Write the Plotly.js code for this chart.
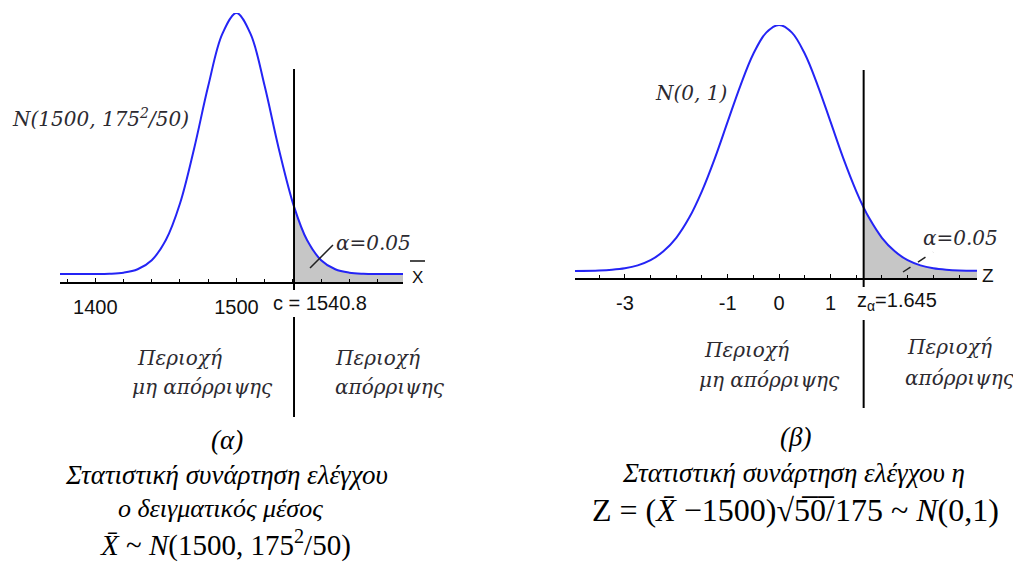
<!DOCTYPE html>
<html>
<head>
<meta charset="utf-8">
<script src="https://cdn.plot.ly/plotly-3.0.1.min.js"></script>
<style>html,body{margin:0;padding:0;background:#fff;}#chart{width:1013px;height:564px;}</style>
</head>
<body>
<div id="chart"></div>
<script>
// ---- data (relative density heights) ----
const leftX = [1375, 1390, 1400, 1410, 1420, 1430, 1440, 1450, 1460, 1470, 1480, 1490, 1500, 1510, 1520, 1530, 1540.8, 1550, 1560, 1570, 1580, 1590, 1600, 1618];
const leftY = [0.000, 0.000, 0.000, 0.001, 0.005, 0.018, 0.053, 0.130, 0.270, 0.480, 0.720, 0.920, 1.000, 0.920, 0.720, 0.480, 0.258, 0.130, 0.053, 0.018, 0.005, 0.001, 0.000, 0.000];
const rightZ = [-3.97, -3.5, -3.25, -3, -2.75, -2.5, -2.25, -2, -1.75, -1.5, -1.25, -1, -0.75, -0.5, -0.25, 0, 0.25, 0.5, 0.75, 1, 1.25, 1.5, 1.645, 1.75, 2, 2.25, 2.5, 2.75, 3, 3.25, 3.5, 3.85];
const rightY = [0.000, 0.002, 0.005, 0.011, 0.023, 0.044, 0.080, 0.135, 0.216, 0.325, 0.458, 0.607, 0.755, 0.883, 0.969, 1.000, 0.969, 0.883, 0.755, 0.607, 0.458, 0.325, 0.258, 0.216, 0.135, 0.080, 0.044, 0.023, 0.011, 0.005, 0.002, 0.001];
const critLeft = 1540.8;
const critRight = 1.645;
const leftTickVals = [1400, 1500];
const leftTickText = ['1400', '1500'];
const rightTickVals = [-3, -1, 0, 1];
const rightTickText = ['-3', '-1', '0', '1'];

// ---- helpers: pixel -> paper ----
const W = 1013, H = 564;
const px = v => v / W;
const py = v => 1 - v / H;

const yminL = -0.0307, yminR = -0.0285;
const curveColor = '#2424f5';
const fillColor = '#c6c6c6';
const labelColor = '#2c2a30';

function tail(xs, ys, c) {
  const tx = [], ty = [];
  xs.forEach((x, i) => { if (x >= c) { tx.push(x); ty.push(ys[i]); } });
  return [tx, ty];
}
const [tLx, tLy] = tail(leftX, leftY, critLeft);
const [tRx, tRy] = tail(rightZ, rightY, critRight);

const traces = [
  {x: tLx, y: tLx.map(() => yminL), xaxis: 'x', yaxis: 'y', mode: 'lines', line: {width: 0}, hoverinfo: 'skip', showlegend: false},
  {x: tLx, y: tLy, xaxis: 'x', yaxis: 'y', mode: 'lines', fill: 'tonexty', fillcolor: fillColor, line: {width: 0, shape: 'spline'}, hoverinfo: 'skip', showlegend: false},
  {x: leftX, y: leftY, xaxis: 'x', yaxis: 'y', mode: 'lines', line: {color: curveColor, width: 2, shape: 'spline'}, showlegend: false},
  {x: tRx, y: tRx.map(() => yminR), xaxis: 'x2', yaxis: 'y2', mode: 'lines', line: {width: 0}, hoverinfo: 'skip', showlegend: false},
  {x: tRx, y: tRy, xaxis: 'x2', yaxis: 'y2', mode: 'lines', fill: 'tonexty', fillcolor: fillColor, line: {width: 0, shape: 'spline'}, hoverinfo: 'skip', showlegend: false},
  {x: rightZ, y: rightY, xaxis: 'x2', yaxis: 'y2', mode: 'lines', line: {color: curveColor, width: 2, shape: 'spline'}, showlegend: false}
];

const tickFont = {family: 'Liberation Sans, Arial, sans-serif', size: 20, color: '#111'};
function xax(domain, range, vals, text, minorDtick, anchor) {
  return {
    domain: domain, range: range, anchor: anchor, showline: true, linecolor: '#000', linewidth: 1.5,
    showgrid: false, zeroline: false, ticks: 'inside', ticklen: 4, tickcolor: '#000', tickwidth: 1,
    tickmode: 'array', tickvals: vals, ticktext: text, tickfont: tickFont, ticklabelstandoff: 6,
    minor: {tickmode: 'linear', tick0: 0, dtick: minorDtick, ticks: 'inside', ticklen: 3, tickcolor: '#000', showgrid: false},
    fixedrange: true
  };
}

const italicSerif = 'DejaVu Serif, serif';
const times = 'Liberation Serif, Times New Roman, serif';
function ann(text, x, y, opts) {
  return Object.assign({text: text, x: px(x), y: py(y), xref: 'paper', yref: 'paper', showarrow: false,
    xanchor: 'center', yanchor: 'middle', font: {family: italicSerif, size: 20, color: labelColor}}, opts || {});
}

const annotations = [
  ann('<i>N(1500, 175<sup>2</sup>/50)</i>', 10, 118, {xanchor: 'left', font: {family: italicSerif, size: 20, color: labelColor}}),
  ann('<i>α=0.05</i>', 373, 243),
  ann('<i>N(0, 1)</i>', 691, 93, {font: {family: italicSerif, size: 20, color: labelColor}}),
  ann('<i>α=0.05</i>', 960, 238),
  ann('c = 1540.8', 271, 303, {xanchor: 'left', font: tickFont}),
  ann('z<sub>α</sub>=1.645', 855, 301, {xanchor: 'left', font: tickFont}),
  ann('X', 417, 277, {font: {family: 'Liberation Sans, Arial, sans-serif', size: 17, color: '#111'}}),
  ann('Z', 988, 275, {font: {family: 'Liberation Sans, Arial, sans-serif', size: 19, color: '#111'}}),
  ann('<i>Περιοχή</i>', 135, 358, {xanchor: 'left'}),
  ann('<i>μη απόρριψης</i>', 130, 387, {xanchor: 'left'}),
  ann('<i>Περιοχή</i>', 333, 358, {xanchor: 'left'}),
  ann('<i>απόρριψης</i>', 333, 387, {xanchor: 'left'}),
  ann('<i>Περιοχή</i>', 702, 350, {xanchor: 'left'}),
  ann('<i>μη απόρριψης</i>', 697, 380, {xanchor: 'left'}),
  ann('<i>Περιοχή</i>', 905, 347, {xanchor: 'left'}),
  ann('<i>απόρριψης</i>', 903, 378, {xanchor: 'left'}),
  ann('<i>(α)</i>', 227, 440, {font: {family: times, size: 27, color: '#000'}}),
  ann('<i>Στατιστική συνάρτηση ελέγχου</i>', 226, 475, {font: {family: times, size: 27, color: '#000'}}),
  ann('<i>ο δειγματικός μέσος</i>', 220, 508, {font: {family: times, size: 26, color: '#000'}}),
  ann('<i>X\u0304</i> ~ <i>N</i>(1500, 175<sup>2</sup>/50)', 225, 564, {yanchor: 'bottom', font: {family: times, size: 29, color: '#000'}}),
  ann('<i>(β)</i>', 795, 437, {font: {family: times, size: 27, color: '#000'}}),
  ann('<i>Στατιστική συνάρτηση ελέγχου η</i>', 793, 473, {font: {family: times, size: 27, color: '#000'}}),
  ann('Z = (<i>X\u0304</i> \u22121500)\u221A5\u03050\u0305/175 ~ <i>N</i>(0,1)', 795, 510, {font: {family: times, size: 32, color: '#000'}})
];

function seg(x0, y0, x1, y1, extra) {
  return Object.assign({type: 'line', xref: 'paper', yref: 'paper', x0: px(x0), y0: py(y0), x1: px(x1), y1: py(y1),
    line: {color: '#000', width: 2}}, extra || {});
}
const shapes = [
  {type: 'line', xref: 'x', yref: 'paper', x0: critLeft, x1: critLeft, y0: py(290), y1: py(69), line: {color: '#000', width: 2}},
  {type: 'line', xref: 'x', yref: 'paper', x0: critLeft, x1: critLeft, y0: py(417), y1: py(317), line: {color: '#000', width: 2}},
  {type: 'line', xref: 'x2', yref: 'paper', x0: critRight, x1: critRight, y0: py(287), y1: py(70), line: {color: '#000', width: 2}},
  {type: 'line', xref: 'x2', yref: 'paper', x0: critRight, x1: critRight, y0: py(408), y1: py(320), line: {color: '#000', width: 2}},
  seg(310, 268, 333, 245, {line: {color: '#222', width: 1.5}}),
  seg(903, 272, 933, 252, {line: {color: '#222', width: 1.5, dash: 'dash'}}),
  seg(410, 261, 425, 261, {line: {color: '#111', width: 1.5}})
];

const layout = {
  width: W, height: H,
  margin: {l: 0, r: 0, t: 0, b: 0},
  paper_bgcolor: '#fff', plot_bgcolor: 'rgba(0,0,0,0)',
  showlegend: false,
  xaxis: xax([px(60), px(403)], [1375, 1618], leftTickVals, leftTickText, 20, 'y'),
  yaxis: {domain: [py(282), py(13)], range: [yminL, 1.0], visible: false, fixedrange: true},
  xaxis2: xax([px(575), px(977)], [-3.97, 3.85], rightTickVals, rightTickText, 0.5, 'y2'),
  yaxis2: {domain: [py(278), py(25)], range: [yminR, 1.0], visible: false, fixedrange: true},
  annotations: annotations,
  shapes: shapes
};

Plotly.newPlot('chart', traces, layout, {staticPlot: true, displayModeBar: false});
</script>
</body>
</html>
